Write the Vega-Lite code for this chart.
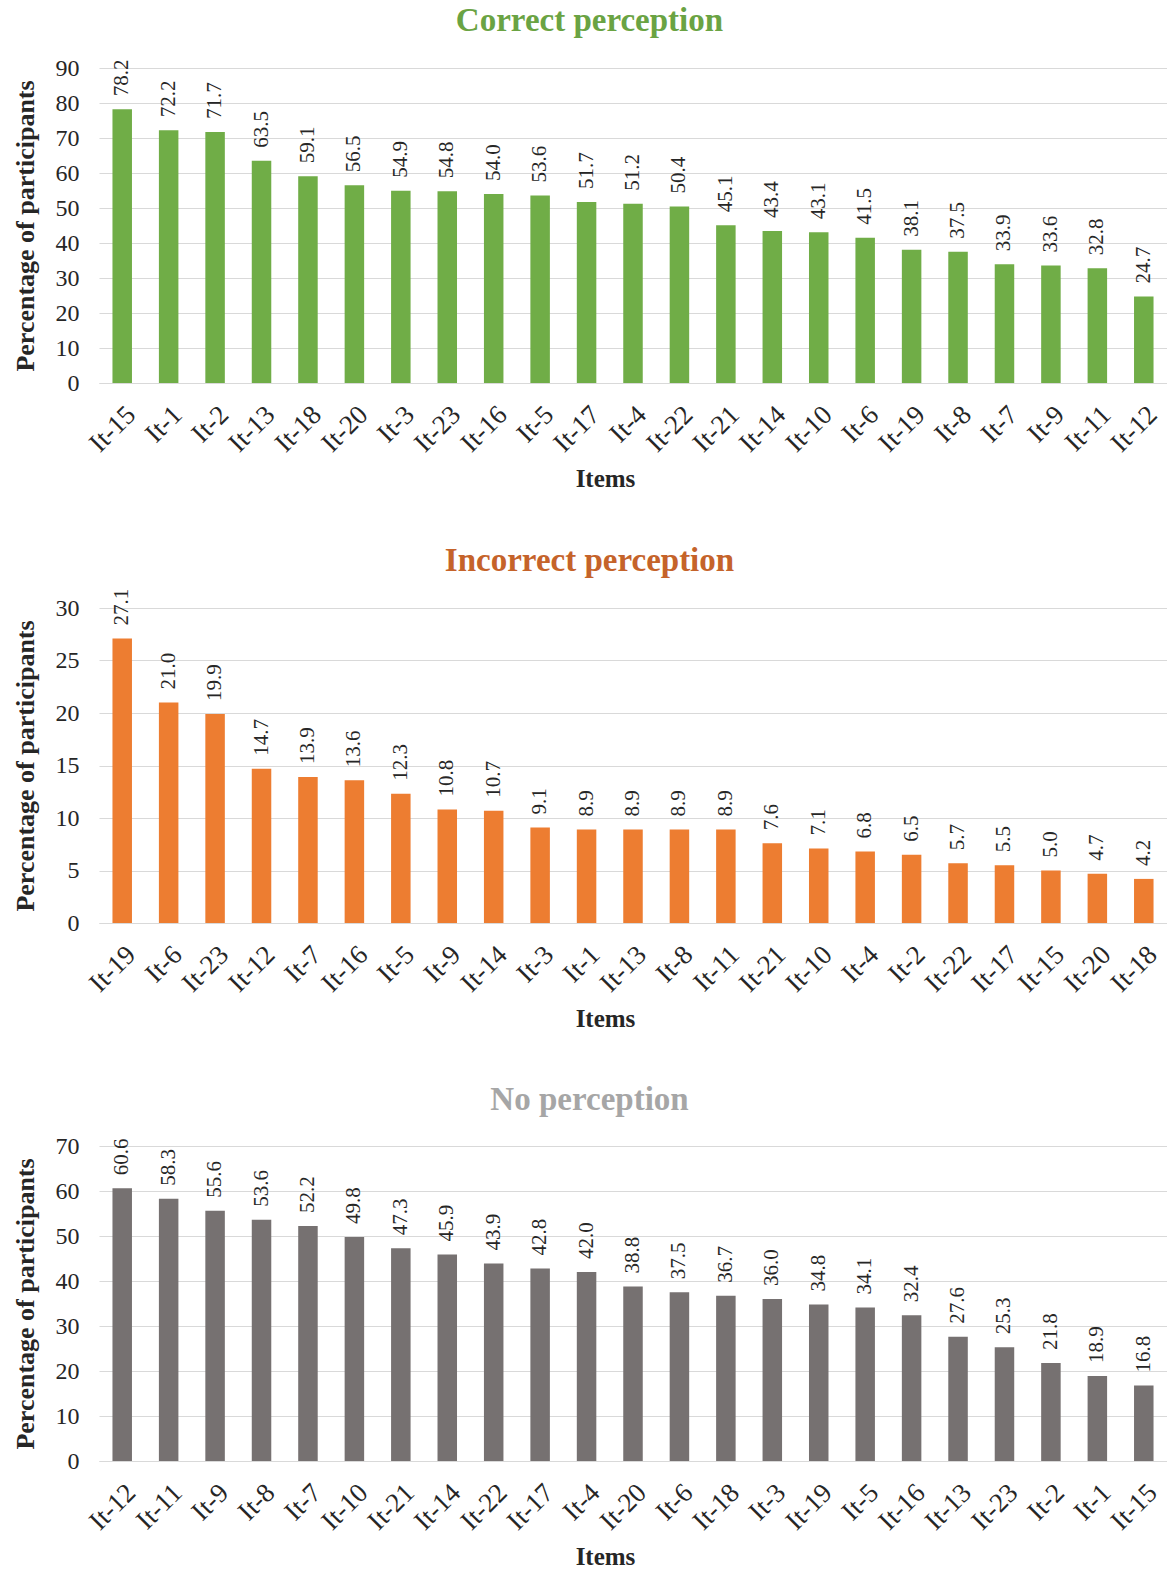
{
  "$schema": "https://vega.github.io/schema/vega-lite/v6.json",
  "padding": {"left": 12, "top": 5, "right": 0, "bottom": 5},
  "background": "white",
  "config": {
    "font": "Liberation Serif",
    "view": {"stroke": null},
    "concat": {"spacing": 52},
    "axis": {"labelFont": "Liberation Serif", "titleFont": "Liberation Serif", "labelColor": "#262626", "titleColor": "#262626", "ticks": false, "titleFontWeight": "bold"},
    "axisX": {"labelAngle": -45, "labelFontSize": 27, "titleFontSize": 25, "domainColor": "#d9d9d9", "labelPadding": 18, "titlePadding": 10, "titleX": 506, "titleAlign": "center"},
    "axisY": {"gridColor": "#d9d9d9", "domain": false, "labelFontSize": 24, "titleFontSize": 26, "labelPadding": 20, "titlePadding": 17},
    "title": {"font": "Liberation Serif", "fontSize": 33, "fontWeight": "bold", "anchor": "middle", "frame": "bounds", "offset": 18},
    "text": {"font": "Liberation Serif", "fontSize": 21, "color": "#262626"}
  },
  "datasets": {
    "correct": [
      {"item": "It-15", "pct": 78.2}, {"item": "It-1", "pct": 72.2}, {"item": "It-2", "pct": 71.7}, {"item": "It-13", "pct": 63.5},
      {"item": "It-18", "pct": 59.1}, {"item": "It-20", "pct": 56.5}, {"item": "It-3", "pct": 54.9}, {"item": "It-23", "pct": 54.8},
      {"item": "It-16", "pct": 54.0}, {"item": "It-5", "pct": 53.6}, {"item": "It-17", "pct": 51.7}, {"item": "It-4", "pct": 51.2},
      {"item": "It-22", "pct": 50.4}, {"item": "It-21", "pct": 45.1}, {"item": "It-14", "pct": 43.4}, {"item": "It-10", "pct": 43.1},
      {"item": "It-6", "pct": 41.5}, {"item": "It-19", "pct": 38.1}, {"item": "It-8", "pct": 37.5}, {"item": "It-7", "pct": 33.9},
      {"item": "It-9", "pct": 33.6}, {"item": "It-11", "pct": 32.8}, {"item": "It-12", "pct": 24.7}
    ],
    "incorrect": [
      {"item": "It-19", "pct": 27.1}, {"item": "It-6", "pct": 21.0}, {"item": "It-23", "pct": 19.9}, {"item": "It-12", "pct": 14.7},
      {"item": "It-7", "pct": 13.9}, {"item": "It-16", "pct": 13.6}, {"item": "It-5", "pct": 12.3}, {"item": "It-9", "pct": 10.8},
      {"item": "It-14", "pct": 10.7}, {"item": "It-3", "pct": 9.1}, {"item": "It-1", "pct": 8.9}, {"item": "It-13", "pct": 8.9},
      {"item": "It-8", "pct": 8.9}, {"item": "It-11", "pct": 8.9}, {"item": "It-21", "pct": 7.6}, {"item": "It-10", "pct": 7.1},
      {"item": "It-4", "pct": 6.8}, {"item": "It-2", "pct": 6.5}, {"item": "It-22", "pct": 5.7}, {"item": "It-17", "pct": 5.5},
      {"item": "It-15", "pct": 5.0}, {"item": "It-20", "pct": 4.7}, {"item": "It-18", "pct": 4.2}
    ],
    "none": [
      {"item": "It-12", "pct": 60.6}, {"item": "It-11", "pct": 58.3}, {"item": "It-9", "pct": 55.6}, {"item": "It-8", "pct": 53.6},
      {"item": "It-7", "pct": 52.2}, {"item": "It-10", "pct": 49.8}, {"item": "It-21", "pct": 47.3}, {"item": "It-14", "pct": 45.9},
      {"item": "It-22", "pct": 43.9}, {"item": "It-17", "pct": 42.8}, {"item": "It-4", "pct": 42.0}, {"item": "It-20", "pct": 38.8},
      {"item": "It-6", "pct": 37.5}, {"item": "It-18", "pct": 36.7}, {"item": "It-3", "pct": 36.0}, {"item": "It-19", "pct": 34.8},
      {"item": "It-5", "pct": 34.1}, {"item": "It-16", "pct": 32.4}, {"item": "It-13", "pct": 27.6}, {"item": "It-23", "pct": 25.3},
      {"item": "It-2", "pct": 21.8}, {"item": "It-1", "pct": 18.9}, {"item": "It-15", "pct": 16.8}
    ]
  },
  "vconcat": [
    {
      "title": {"text": "Correct perception", "color": "#6AA343", "offset": 18},
      "width": 1068, "height": 315,
      "data": {"name": "correct"},
      "encoding": {
        "x": {"field": "item", "type": "nominal", "sort": null, "scale": {"paddingInner": 0.58, "paddingOuter": 0.29}, "axis": {"title": "Items"}},
        "y": {"field": "pct", "type": "quantitative", "scale": {"domain": [0, 90], "nice": false},
              "axis": {"title": "Percentage of participants", "values": [0, 10, 20, 30, 40, 50, 60, 70, 80, 90]}}
      },
      "layer": [
        {"mark": {"type": "bar", "color": "#70AD47"}},
        {"mark": {"type": "text", "angle": 270, "align": "left", "baseline": "middle", "dx": 13},
         "encoding": {"text": {"field": "pct", "type": "quantitative", "format": ".1f"}}}
      ]
    },
    {
      "title": {"text": "Incorrect perception", "color": "#C5632A", "offset": 11},
      "width": 1068, "height": 315,
      "data": {"name": "incorrect"},
      "encoding": {
        "x": {"field": "item", "type": "nominal", "sort": null, "scale": {"paddingInner": 0.58, "paddingOuter": 0.29}, "axis": {"title": "Items"}},
        "y": {"field": "pct", "type": "quantitative", "scale": {"domain": [0, 30], "nice": false},
              "axis": {"title": "Percentage of participants", "values": [0, 5, 10, 15, 20, 25, 30]}}
      },
      "layer": [
        {"mark": {"type": "bar", "color": "#ED7D31"}},
        {"mark": {"type": "text", "angle": 270, "align": "left", "baseline": "middle", "dx": 13},
         "encoding": {"text": {"field": "pct", "type": "quantitative", "format": ".1f"}}}
      ]
    },
    {
      "title": {"text": "No perception", "color": "#A6A6A6", "offset": 17},
      "width": 1068, "height": 315,
      "data": {"name": "none"},
      "encoding": {
        "x": {"field": "item", "type": "nominal", "sort": null, "scale": {"paddingInner": 0.58, "paddingOuter": 0.29}, "axis": {"title": "Items"}},
        "y": {"field": "pct", "type": "quantitative", "scale": {"domain": [0, 70], "nice": false},
              "axis": {"title": "Percentage of participants", "values": [0, 10, 20, 30, 40, 50, 60, 70]}}
      },
      "layer": [
        {"mark": {"type": "bar", "color": "#767171"}},
        {"mark": {"type": "text", "angle": 270, "align": "left", "baseline": "middle", "dx": 13},
         "encoding": {"text": {"field": "pct", "type": "quantitative", "format": ".1f"}}}
      ]
    }
  ]
}
